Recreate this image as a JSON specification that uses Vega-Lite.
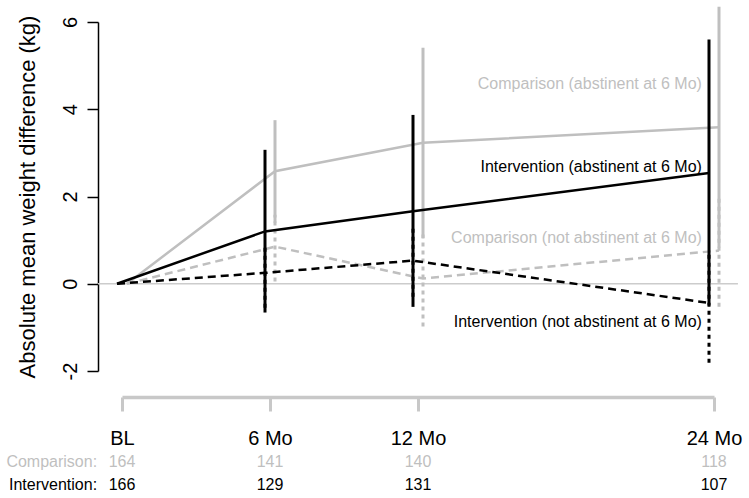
{
  "$schema": "https://vega.github.io/schema/vega-lite/v6.json",
  "width": 592,
  "height": 349,
  "autosize": {"type": "none"},
  "padding": {"left": 122, "top": 22, "right": 35, "bottom": 127},
  "config": {"view": {"stroke": null}, "font": "Liberation Sans", "axis": {"grid": false}},
  "datasets": {
    "series": [
      {"arm": "Comparison", "status": "abstinent", "month": 0, "mean": 0, "lo": null, "hi": null},
      {"arm": "Comparison", "status": "abstinent", "month": 6, "mean": 2.58, "lo": 1.4, "hi": 3.75},
      {"arm": "Comparison", "status": "abstinent", "month": 12, "mean": 3.23, "lo": 1.05, "hi": 5.41},
      {"arm": "Comparison", "status": "abstinent", "month": 24, "mean": 3.59, "lo": 0.83, "hi": 6.35},
      {"arm": "Comparison", "status": "not abstinent", "month": 0, "mean": 0, "lo": null, "hi": null},
      {"arm": "Comparison", "status": "not abstinent", "month": 6, "mean": 0.85, "lo": 0.05, "hi": 1.58},
      {"arm": "Comparison", "status": "not abstinent", "month": 12, "mean": 0.12, "lo": -0.98, "hi": 1.17},
      {"arm": "Comparison", "status": "not abstinent", "month": 24, "mean": 0.76, "lo": -0.53, "hi": 2.04},
      {"arm": "Intervention", "status": "abstinent", "month": 0, "mean": 0, "lo": null, "hi": null},
      {"arm": "Intervention", "status": "abstinent", "month": 6, "mean": 1.2, "lo": -0.66, "hi": 3.07},
      {"arm": "Intervention", "status": "abstinent", "month": 12, "mean": 1.66, "lo": -0.53, "hi": 3.87},
      {"arm": "Intervention", "status": "abstinent", "month": 24, "mean": 2.54, "lo": -0.5, "hi": 5.6},
      {"arm": "Intervention", "status": "not abstinent", "month": 0, "mean": 0, "lo": null, "hi": null},
      {"arm": "Intervention", "status": "not abstinent", "month": 6, "mean": 0.25, "lo": -0.55, "hi": 0.89},
      {"arm": "Intervention", "status": "not abstinent", "month": 12, "mean": 0.53, "lo": -0.3, "hi": 1.3},
      {"arm": "Intervention", "status": "not abstinent", "month": 24, "mean": -0.44, "lo": -1.81, "hi": 0.73}
    ],
    "labels": [
      {"arm": "Comparison", "label": "Comparison (abstinent at 6 Mo)", "x": 23.51, "y": 4.58},
      {"arm": "Intervention", "label": "Intervention (abstinent at 6 Mo)", "x": 23.51, "y": 2.68},
      {"arm": "Comparison", "label": "Comparison (not abstinent at 6 Mo)", "x": 23.51, "y": 1.05},
      {"arm": "Intervention", "label": "Intervention (not abstinent at 6 Mo)", "x": 23.51, "y": -0.88}
    ],
    "table": [
      {"arm": "Comparison", "month": 0, "n": 164},
      {"arm": "Comparison", "month": 6, "n": 141},
      {"arm": "Comparison", "month": 12, "n": 140},
      {"arm": "Comparison", "month": 24, "n": 118},
      {"arm": "Intervention", "month": 0, "n": 166},
      {"arm": "Intervention", "month": 6, "n": 129},
      {"arm": "Intervention", "month": 12, "n": 131},
      {"arm": "Intervention", "month": 24, "n": 107}
    ]
  },
  "layer": [
    {
      "data": {"values": [{}]},
      "mark": {"type": "rule", "color": "#cccccc", "strokeWidth": 1.5},
      "encoding": {
        "x": {"datum": -0.973, "type": "quantitative", "scale": {"domain": [0, 24], "nice": false, "zero": false},
          "axis": {"title": null, "values": [0, 6, 12, 24], "labelExpr": "datum.value == 0 ? 'BL' : datum.value + ' Mo'", "offset": 26,
            "domainColor": "#c8c8c8", "domainWidth": 3.5, "tickColor": "#c8c8c8", "tickWidth": 3, "tickSize": 14,
            "labelFontSize": 20, "labelColor": "black", "labelPadding": 17, "labelFlush": false, "labelOverlap": false}},
        "x2": {"datum": 24.97},
        "y": {"datum": 0, "type": "quantitative", "scale": {"domain": [-2, 6], "nice": false, "zero": false},
          "axis": {"title": "Absolute mean weight difference (kg)", "values": [-2, 0, 2, 4, 6], "labelExpr": "'' + datum.value", "offset": 24,
            "domainColor": "black", "domainWidth": 1.5, "tickColor": "black", "tickWidth": 1.5, "tickSize": 11,
            "labelAngle": -90, "labelAlign": "center", "labelBaseline": "bottom", "labelFontSize": 20, "labelColor": "black",
            "labelPadding": 7, "labelFlush": false, "titleFontSize": 22, "titleFontWeight": "normal", "titleColor": "black", "titlePadding": 21}}
      }
    },
    {
      "data": {"name": "series"},
      "transform": [{"filter": "datum.arm === 'Comparison' && datum.status === 'abstinent'"}],
      "mark": {"type": "line", "color": "#bfbfbf", "strokeWidth": 2.5, "xOffset": 5},
      "encoding": {"x": {"field": "month", "type": "quantitative"}, "y": {"field": "mean", "type": "quantitative"}}
    },
    {
      "data": {"name": "series"},
      "transform": [{"filter": "datum.arm === 'Comparison' && datum.status === 'not abstinent'"}],
      "mark": {"type": "line", "color": "#bfbfbf", "strokeWidth": 2.5, "strokeDash": [8, 5], "xOffset": 5},
      "encoding": {"x": {"field": "month", "type": "quantitative"}, "y": {"field": "mean", "type": "quantitative"}}
    },
    {
      "data": {"name": "series"},
      "transform": [{"filter": "datum.arm === 'Comparison' && datum.status === 'abstinent' && datum.month > 0"}],
      "mark": {"type": "rule", "color": "#bfbfbf", "strokeWidth": 3, "xOffset": 5},
      "encoding": {"x": {"field": "month", "type": "quantitative"}, "y": {"field": "lo", "type": "quantitative"}, "y2": {"field": "hi"}}
    },
    {
      "data": {"name": "series"},
      "transform": [{"filter": "datum.arm === 'Comparison' && datum.status === 'not abstinent' && datum.month > 0"}],
      "mark": {"type": "rule", "color": "#bfbfbf", "strokeWidth": 3, "strokeDash": [4, 4], "xOffset": 5},
      "encoding": {"x": {"field": "month", "type": "quantitative"}, "y": {"field": "lo", "type": "quantitative"}, "y2": {"field": "hi"}}
    },
    {
      "data": {"name": "series"},
      "transform": [{"filter": "datum.arm === 'Intervention' && datum.status === 'abstinent'"}],
      "mark": {"type": "line", "color": "black", "strokeWidth": 2.5, "xOffset": -5},
      "encoding": {"x": {"field": "month", "type": "quantitative"}, "y": {"field": "mean", "type": "quantitative"}}
    },
    {
      "data": {"name": "series"},
      "transform": [{"filter": "datum.arm === 'Intervention' && datum.status === 'not abstinent'"}],
      "mark": {"type": "line", "color": "black", "strokeWidth": 2.5, "strokeDash": [8, 5], "xOffset": -5},
      "encoding": {"x": {"field": "month", "type": "quantitative"}, "y": {"field": "mean", "type": "quantitative"}}
    },
    {
      "data": {"name": "series"},
      "transform": [{"filter": "datum.arm === 'Intervention' && datum.status === 'abstinent' && datum.month > 0"}],
      "mark": {"type": "rule", "color": "black", "strokeWidth": 3, "xOffset": -5},
      "encoding": {"x": {"field": "month", "type": "quantitative"}, "y": {"field": "lo", "type": "quantitative"}, "y2": {"field": "hi"}}
    },
    {
      "data": {"name": "series"},
      "transform": [{"filter": "datum.arm === 'Intervention' && datum.status === 'not abstinent' && datum.month > 0"}],
      "mark": {"type": "rule", "color": "black", "strokeWidth": 3, "strokeDash": [4, 4], "xOffset": -5},
      "encoding": {"x": {"field": "month", "type": "quantitative"}, "y": {"field": "lo", "type": "quantitative"}, "y2": {"field": "hi"}}
    },
    {
      "data": {"name": "labels"},
      "mark": {"type": "text", "align": "right", "baseline": "middle", "fontSize": 16},
      "encoding": {
        "x": {"field": "x", "type": "quantitative"},
        "y": {"field": "y", "type": "quantitative"},
        "text": {"field": "label"},
        "color": {"field": "arm", "type": "nominal", "scale": {"domain": ["Comparison", "Intervention"], "range": ["#bfbfbf", "black"]}, "legend": null}
      }
    },
    {
      "data": {"name": "table"},
      "transform": [{"filter": "datum.arm === 'Comparison'"}],
      "mark": {"type": "text", "align": "center", "baseline": "middle", "fontSize": 16, "color": "#bfbfbf"},
      "encoding": {"x": {"field": "month", "type": "quantitative"}, "y": {"datum": -4.086}, "text": {"field": "n"}}
    },
    {
      "data": {"name": "table"},
      "transform": [{"filter": "datum.arm === 'Intervention'"}],
      "mark": {"type": "text", "align": "center", "baseline": "middle", "fontSize": 16, "color": "black"},
      "encoding": {"x": {"field": "month", "type": "quantitative"}, "y": {"datum": -4.613}, "text": {"field": "n"}}
    },
    {
      "data": {"values": [{}]},
      "mark": {"type": "text", "align": "right", "baseline": "middle", "fontSize": 16, "color": "#bfbfbf"},
      "encoding": {"x": {"datum": -1.01}, "y": {"datum": -4.086}, "text": {"value": "Comparison:"}}
    },
    {
      "data": {"values": [{}]},
      "mark": {"type": "text", "align": "right", "baseline": "middle", "fontSize": 16, "color": "black"},
      "encoding": {"x": {"datum": -1.01}, "y": {"datum": -4.613}, "text": {"value": "Intervention:"}}
    }
  ]
}
